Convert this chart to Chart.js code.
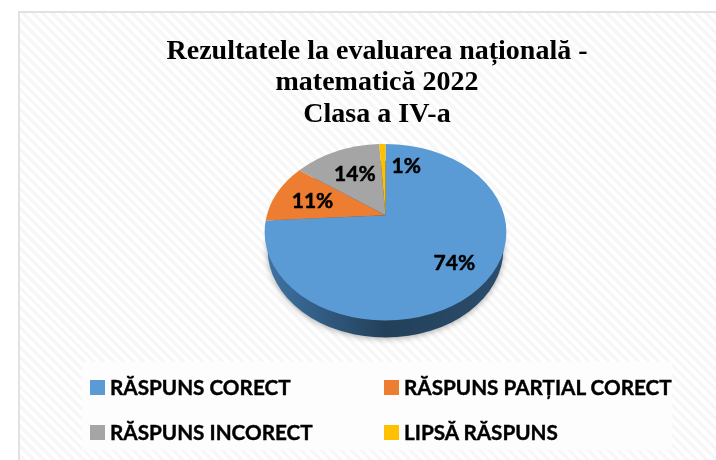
<!DOCTYPE html>
<html>
<head>
<meta charset="utf-8">
<script src="https://cdn.jsdelivr.net/npm/chart.js@4"></script>
<style>
  html, body { margin: 0; padding: 0; background: #fff; overflow: hidden; }
  #frame {
    position: absolute; left: 18px; top: 11px; width: 720px; height: 470px;
    border: 2px solid #e2e2e2;
    background: repeating-linear-gradient(45deg, #fff 0 3.5px, #f7f7f7 3.5px 7px);
  }
  #legendBox { position: absolute; left: 82px; top: 362px; width: 590px; height: 88px; background: #fdfdfd; }
  #wrap { position: absolute; left: 0; top: 0; width: 716px; height: 460px; }
  .item {
    position: absolute; font: bold 20.7px Lato, sans-serif; color: #000;
    white-space: nowrap; line-height: 24px; padding-left: 20px;
    -webkit-text-stroke: 0.4px #000;
  }
  .item i { position: absolute; left: 0; top: 5px; width: 15px; height: 15px; }
</style>
</head>
<body>
<div id="frame"></div>
<div id="legendBox"></div>
<div id="wrap"><canvas id="chart" width="716" height="460"></canvas></div>
<script>
const titleLines = ['Rezultatele la evaluarea națională -', 'matematică 2022', 'Clasa a IV-a'];
const categories = ['RĂSPUNS CORECT', 'RĂSPUNS PARȚIAL CORECT', 'RĂSPUNS INCORECT', 'LIPSĂ RĂSPUNS'];
const values = [74, 11, 14, 1];
const colors = ['#5b9bd5', '#ed7d31', '#a5a5a5', '#ffc000'];

// pie is tilted, the apex sits above the middle of the ellipse
const tilt = -0.193;
const stretchX = 1.212, stretchY = 0.885;
const shiftX = 8.5, depth = 17;
const labelRadius = 0.72;
const labelNudge = [[0, 2], [6, 2], [6, 7], [23, 5]];

function project(a, r) {
  // a is the canvas angle of the slice edge, r goes from 0 to 1 along the radius
  const x = Math.cos(a) * r, y = Math.sin(a) * r;
  const d = 1 + tilt * y;
  return { x: x * Math.sqrt(1 - tilt * tilt) / d, y: (y + tilt) / d };
}

const tiltedPie = {
  id: 'tiltedPie',
  beforeDatasetDraw(chart, args) {
    const ctx = chart.ctx;
    const arcs = chart.getDatasetMeta(args.index).data;
    const first = arcs[0];
    const cx = first.x + shiftX, cy = first.y;
    const a = first.outerRadius * stretchX, b = first.outerRadius * stretchY;

    ctx.save();
    // side of the pie with soft shadow
    const side = ctx.createLinearGradient(cx - a, 0, cx + a, 0);
    side.addColorStop(0, '#3f74a6');
    side.addColorStop(0.5, '#234059');
    side.addColorStop(1, '#2b4d6d');
    ctx.shadowColor = 'rgba(0,0,0,0.35)';
    ctx.shadowBlur = 6;
    ctx.shadowOffsetY = 1;
    ctx.fillStyle = side;
    ctx.beginPath();
    ctx.ellipse(cx, cy + depth, a - 3, b, 0, 0, Math.PI * 2);
    ctx.fill();
    ctx.restore();

    arcs.forEach((arc) => {
      const s = project(arc.startAngle, 1), e = project(arc.endAngle, 1);
      const apex = project(0, 0);
      ctx.fillStyle = arc.options.backgroundColor;
      ctx.beginPath();
      ctx.moveTo(cx + apex.x * a, cy + apex.y * b);
      ctx.ellipse(cx, cy, a, b, 0, Math.atan2(s.y, s.x), Math.atan2(e.y, e.x));
      ctx.closePath();
      ctx.fill();
    });

    ctx.fillStyle = '#000';
    ctx.strokeStyle = '#000';
    ctx.lineWidth = 0.5;
    ctx.font = 'bold 21px Lato, sans-serif';
    ctx.textAlign = 'center';
    ctx.textBaseline = 'middle';
    arcs.forEach((arc, i) => {
      const p = project((arc.startAngle + arc.endAngle) / 2, labelRadius);
      const lx = cx + p.x * a + labelNudge[i][0], ly = cy + p.y * b + labelNudge[i][1];
      ctx.fillText(values[i] + '%', lx, ly);
      ctx.strokeText(values[i] + '%', lx, ly);
    });
    return false;
  }
};

new Chart(document.getElementById('chart'), {
  type: 'pie',
  data: {
    labels: categories,
    datasets: [{ data: values, backgroundColor: colors, borderWidth: 0 }]
  },
  plugins: [tiltedPie],
  options: {
    responsive: false,
    animation: false,
    layout: { padding: { left: 38, bottom: 128 } },
    plugins: {
      legend: { display: false },
      tooltip: { enabled: false },
      title: {
        display: true,
        text: titleLines,
        color: '#000',
        font: { family: '"Liberation Serif"', size: 28, weight: 'bold', lineHeight: 1.125 },
        padding: { top: 36, bottom: 2 }
      }
    }
  }
});

// two column legend, same order as the slices
const slots = [[90, 375], [384, 375], [90, 420], [384, 420]];
categories.forEach((name, i) => {
  const el = document.createElement('div');
  el.className = 'item';
  el.style.left = slots[i][0] + 'px';
  el.style.top = slots[i][1] + 'px';
  el.innerHTML = '<i style="background:' + colors[i] + ';-webkit-text-stroke:0"></i>' + name;
  document.body.appendChild(el);
});
</script>
</body>
</html>
